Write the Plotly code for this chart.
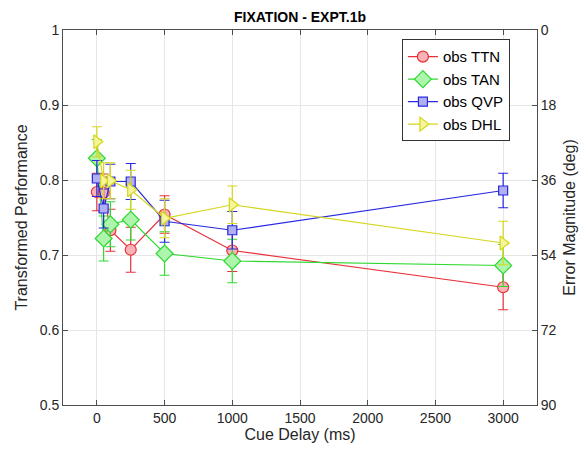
import plotly.graph_objects as go

delays = [0, 50, 100, 250, 500, 1000, 3000]

ttn = [0.784, 0.783, 0.733, 0.707, 0.754, 0.706, 0.657]
ttn_err = [0.025, 0.025, 0.028, 0.030, 0.025, 0.028, 0.030]

tan = [0.829, 0.722, 0.741, 0.747, 0.702, 0.692, 0.686]
tan_err = [0.025, 0.030, 0.030, 0.027, 0.029, 0.029, 0.028]

qvp = [0.802, 0.762, 0.798, 0.798, 0.745, 0.733, 0.786]
qvp_err = [0.024, 0.026, 0.023, 0.024, 0.028, 0.025, 0.023]

dhl = [0.851, 0.799, 0.799, 0.787, 0.749, 0.767, 0.716]
dhl_err = [0.020, 0.024, 0.024, 0.026, 0.026, 0.025, 0.029]

series = [
    ("obs TTN", ttn, ttn_err, "#e8303a", "#f7b3b5", "circle", 11),
    ("obs TAN", tan, tan_err, "#30d830", "#adf5ad", "diamond", 13),
    ("obs QVP", qvp, qvp_err, "#2828e0", "#b0b0f0", "square", 9),
    ("obs DHL", dhl, dhl_err, "#d6d61e", "#f5f59a", "triangle-right", 12),
]

y_ticks = [0.5, 0.6, 0.7, 0.8, 0.9, 1.0]
y_ticktext = ["0.5", "0.6", "0.7", "0.8", "0.9", "1"]
x_ticks = [0, 500, 1000, 1500, 2000, 2500, 3000]
err_ticks = [0, 18, 36, 54, 72, 90]

FONT = "Liberation Sans, Arial, Helvetica, sans-serif"
AXC = "#4d4d4d"

fig = go.Figure()
for name, vals, errs, lc, fc, sym, sz in series:
    fig.add_trace(go.Scatter(
        x=delays, y=vals, name=name, mode="lines+markers",
        line=dict(color=lc, width=1.2),
        marker=dict(symbol=sym, size=sz, color=fc, line=dict(color=lc, width=1.2)),
        error_y=dict(type="data", array=errs, visible=True, color=lc, thickness=1.2, width=5),
    ))

fig.add_trace(go.Scatter(x=[0], y=[45], yaxis="y2", mode="markers",
                         marker=dict(opacity=0), showlegend=False, hoverinfo="skip"))

fig.update_layout(
    width=588, height=454,
    margin=dict(l=63, r=47, t=30, b=49),
    paper_bgcolor="white", plot_bgcolor="white",
    font=dict(family=FONT, color="#262626", size=14),
    title=dict(text="<b>FIXATION - EXPT.1b</b>", x=0.5, xref="paper", y=0.962, yanchor="middle",
               font=dict(size=14, color="#000")),
    xaxis=dict(range=[-250, 3250], tickvals=x_ticks, showgrid=True, gridcolor="#e6e6e6",
               zeroline=False, showline=True, linecolor=AXC, linewidth=1, mirror="ticks",
               ticks="inside", ticklen=5, tickcolor=AXC,
               title=dict(text="Cue Delay (ms)", font=dict(size=16), standoff=4)),
    yaxis=dict(range=[0.5, 1.0], tickvals=y_ticks, ticktext=y_ticktext, showgrid=True,
               gridcolor="#e6e6e6", zeroline=False, showline=True, linecolor=AXC, linewidth=1,
               ticks="inside", ticklen=5, tickcolor=AXC,
               title=dict(text="Transformed Performance", font=dict(size=16), standoff=8)),
    yaxis2=dict(overlaying="y", side="right", range=[90, 0], tickvals=err_ticks,
                showgrid=False, zeroline=False, showline=True, linecolor=AXC, linewidth=1,
                ticks="inside", ticklen=5, tickcolor=AXC,
                title=dict(text="Error Magnitude (deg)", font=dict(size=16), standoff=8)),
    legend=dict(x=0.715, y=0.975, xanchor="left", yanchor="top", bgcolor="white",
                bordercolor="#333", borderwidth=1, font=dict(size=15, color="#000"),
                tracegroupgap=0, itemwidth=30),
    showlegend=True,
)

fig.write_html("out.html")
